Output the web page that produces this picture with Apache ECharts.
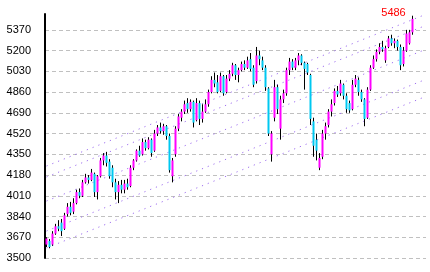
<!DOCTYPE html>
<html><head><meta charset="utf-8">
<script src="https://cdn.jsdelivr.net/npm/echarts@6/dist/echarts.min.js"></script>
<style>html,body{margin:0;padding:0;background:#fff}#c{width:430px;height:272px}</style>
</head><body><div id="c"></div>
<script>
// Daily bars
const opens = [3610,3640,3610,3700,3760,3790,3740,3860,3920,3880,3950,4040,4010,4120,4160,4140,4190,4040,4170,4300,
4340,4290,4240,4120,4040,4100,4060,4110,4090,4240,4300,4380,4350,4450,4400,4470,4380,4520,4570,4540,
4580,4500,4170,4350,4560,4650,4700,4770,4720,4780,4630,4770,4640,4700,4760,4860,4960,4940,4870,4990,
4860,4970,5010,5080,5000,5040,5090,5060,5130,5060,4950,5160,5120,5060,4890,4350,4650,4900,4560,4800,
4850,5040,5110,5060,5120,5160,5100,5090,5000,4620,4470,4240,4330,4520,4590,4700,4770,4870,4850,4920,
4830,4770,4720,4920,4960,4860,4800,4650,4880,5060,5130,5190,5230,5120,5230,5300,5260,5280,5230,5090,
5200,5260,5350];
const closes = [3660,3590,3700,3760,3740,3720,3850,3920,3870,3950,4040,4010,4120,4160,4140,4200,4040,4170,4300,4340,
4280,4170,4120,4040,4100,4060,4110,4080,4240,4300,4380,4340,4450,4400,4470,4360,4520,4570,4540,4580,
4500,4220,4300,4560,4660,4700,4760,4720,4780,4610,4770,4640,4700,4760,4860,4960,4930,4860,4990,4850,
4970,5010,5080,5000,5040,5090,5060,5120,5050,4920,5160,5130,5060,4900,4520,4520,4900,4720,4800,4850,
5040,5110,5060,5120,5160,5100,5050,5020,4640,4420,4380,4320,4520,4580,4700,4760,4870,4840,4930,4830,
4720,4710,4920,4970,4860,4800,4640,4880,5060,5130,5190,5230,5210,5220,5300,5260,5280,5230,5080,5200,
5340,5350,5460];
const lows = [3590,3580,3600,3690,3720,3680,3730,3840,3850,3860,3940,3990,4000,4110,4110,4130,4000,3980,4160,4260,
4250,4150,4080,3980,3950,4030,4030,4060,4080,4220,4290,4330,4340,4380,4390,4330,4370,4500,4520,4510,
4470,4200,4120,4330,4540,4620,4680,4690,4700,4570,4620,4590,4610,4690,4740,4850,4900,4850,4860,4830,
4850,4950,4990,4960,4940,5030,5040,5050,5030,4900,4930,5080,5040,4870,4500,4290,4620,4680,4470,4770,
4830,5000,5040,5040,5080,5080,4880,5000,4590,4330,4300,4220,4310,4470,4570,4660,4750,4820,4830,4800,
4690,4690,4710,4900,4830,4780,4580,4640,4870,5050,5110,5170,5190,5100,5220,5240,5220,5200,5040,5070,
5190,5250,5330];
const highs = [3670,3655,3720,3780,3810,3820,3870,3950,3960,3990,4060,4070,4140,4190,4180,4230,4200,4180,4320,4360,
4370,4310,4260,4150,4130,4140,4140,4150,4260,4310,4390,4420,4480,4470,4490,4480,4550,4590,4610,4600,
4590,4520,4320,4580,4680,4720,4790,4810,4800,4790,4810,4790,4760,4800,4880,4990,5020,5000,5020,5000,
5000,5040,5100,5090,5060,5110,5120,5150,5180,5080,5230,5200,5150,5080,4900,4540,4960,4920,4830,4880,
5060,5140,5130,5140,5180,5170,5110,5100,5010,4650,4520,4360,4550,4610,4720,4800,4890,4910,4960,4930,
4850,4790,4960,5000,4980,4880,4810,4900,5080,5160,5210,5260,5280,5240,5320,5330,5300,5290,5250,5230,
5370,5370,5486];
// Y axis tick labels
const yTicks = [3500,3670,3840,4010,4180,4350,4520,4690,4860,5030,5200,5370];
const yMax = 5500;
// Dotted trend channel lines: value at first and last slot
const trendStart = [4254,4164,3967,3721,3582];
const trendEnd   = [5493,5402,5206,4960,4820];
const slotCount = 127;
const categories = Array.from({length: slotCount}, (_, i) => String(i + 1));

const ohlc = opens.map((o, i) => [o, closes[i], lows[i], highs[i]]);
const bodies = opens.map((o, i) => [o, closes[i], Math.min(o, closes[i]), Math.max(o, closes[i])]);

const FONT = 'Liberation Sans';
const series = [];
trendStart.forEach((s, k) => {
  series.push({
    type: 'line', data: [[0, s], [slotCount - 1, trendEnd[k]]], symbol: 'none', silent: true, z: 1,
    lineStyle: { color: '#9f70f0', width: 1, type: [1.2, 5] }
  });
});
series.push({
  type: 'candlestick', data: ohlc, barWidth: 1, z: 3, silent: true,
  itemStyle: { color: '#000', color0: '#000', borderColor: '#000', borderColor0: '#000', borderWidth: 1 },
  markPoint: {
    symbol: 'circle', symbolSize: 1, itemStyle: { color: 'rgba(0,0,0,0)' },
    data: [{ type: 'max', valueDim: 'highest' }],
    label: { show: true, position: 'inside', offset: [-19, -3], color: '#ff0000', fontFamily: FONT, fontSize: 11,
      formatter: p => String(p.value) }
  }
});
series.push({
  type: 'candlestick', data: bodies, barWidth: 3, z: 4, silent: true,
  itemStyle: { color: '#ff00ff', color0: '#00c8f0', borderColor: '#ff00ff', borderColor0: '#00c8f0', borderWidth: 0 }
});

const chart = echarts.init(document.getElementById('c'), null, { renderer: 'canvas' });
chart.setOption({
  animation: false,
  backgroundColor: '#fff',
  grid: { left: 45, right: 4, top: 14, bottom: 14, containLabel: false },
  xAxis: { type: 'category', data: categories, boundaryGap: true,
    axisLine: { show: false }, axisTick: { show: false }, axisLabel: { show: false }, splitLine: { show: false } },
  yAxis: { type: 'value', min: yTicks[0], max: yMax, interval: yTicks[1] - yTicks[0], scale: false,
    axisLine: { show: true, lineStyle: { color: '#000', width: 2 } },
    axisTick: { show: false },
    axisLabel: { color: '#000', fontFamily: FONT, fontSize: 11, margin: 14, showMaxLabel: false,
      formatter: v => String(v) },
    splitLine: { show: true, showMaxLine: false, lineStyle: { color: '#c0c0c0', width: 1, type: [4, 3] } } },
  series: series
});
</script></body></html>
